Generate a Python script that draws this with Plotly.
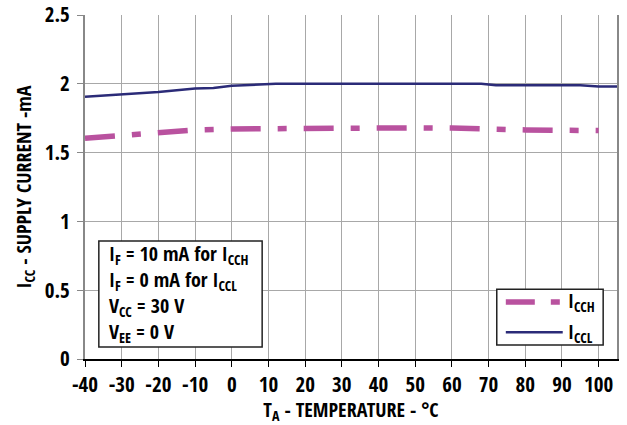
import plotly.graph_objects as go

temp_h = [-40, -30, -20, -10, 0, 10, 20, 30, 40, 50, 60, 70, 80, 90, 100]
icch = [1.605, 1.625, 1.645, 1.665, 1.672, 1.675, 1.68, 1.68, 1.68, 1.68, 1.678, 1.668, 1.665, 1.662, 1.66]

temp_l = [-40, -30, -20, -10, -5, 0, 5, 12, 20, 30, 40, 50, 60, 68, 72, 80, 90, 95, 100, 105]
iccl = [1.905, 1.92, 1.94, 1.965, 1.97, 1.985, 1.99, 2.0, 2.0, 2.0, 2.0, 2.0, 2.0, 2.0, 1.99, 1.99, 1.99, 1.99, 1.98, 1.98]

x_ticks = list(range(-40, 101, 10))
y_ticks = [0, 0.5, 1, 1.5, 2, 2.5]
y_tick_text = ["0", "0.5", "1", "1.5", "2", "2.5"]

series_names = ["I<sub>CCH</sub>", "I<sub>CCL</sub>"]
series_colors = ["#b9529f", "#2b2b78"]
series_widths = [5.5, 2.5]
series_dash = ["30px,17px,9px,17px", "solid"]

cond_lines = [
    "I<sub>F</sub> = 10 mA for I<sub>CCH</sub>",
    "I<sub>F</sub> = 0 mA for I<sub>CCL</sub>",
    "V<sub>CC</sub> = 30 V",
    "V<sub>EE</sub> = 0 V",
]

FONT = "Open Sans Condensed, Roboto Condensed, sans-serif"
TICK = dict(family=FONT, size=21, color="black", weight="bold")
TXT = dict(family=FONT, size=20, color="black", weight="bold")

fig = go.Figure()
fig.add_trace(go.Scatter(
    x=temp_h, y=icch, mode="lines", name=series_names[0], showlegend=False,
    line=dict(color=series_colors[0], width=series_widths[0], dash=series_dash[0]),
))
fig.add_trace(go.Scatter(
    x=temp_l, y=iccl, mode="lines", name=series_names[1], showlegend=False,
    line=dict(color=series_colors[1], width=series_widths[1], dash=series_dash[1]),
))

# conditions box
fig.add_shape(type="rect", xref="paper", yref="paper", x0=0.026, x1=0.333, y0=0.035, y1=0.343,
              line=dict(color="#222222", width=1.5), fillcolor="white", layer="above")
fig.add_annotation(xref="paper", yref="paper", x=0.041, y=0.19, xanchor="left", yanchor="middle",
                   text="<br>".join(cond_lines), align="left", showarrow=False, font=TXT)

# legend box
fig.add_shape(type="rect", xref="paper", yref="paper", x0=0.774, x1=0.974, y0=0.041, y1=0.203,
              line=dict(color="#222222", width=1.5), fillcolor="white", layer="above")
leg_y = [0.166, 0.078]
leg_dash = ["29px,16px,9px,17px", "solid"]
for i in range(2):
    fig.add_shape(type="line", xref="paper", yref="paper", x0=0.791, x1=0.898 if i else 0.894,
                  y0=leg_y[i], y1=leg_y[i], layer="above",
                  line=dict(color=series_colors[i], width=series_widths[i], dash=leg_dash[i]))
    fig.add_annotation(xref="paper", yref="paper", x=0.904, y=leg_y[i], xanchor="left", yanchor="middle",
                       text=series_names[i], showarrow=False, font=TXT)

fig.update_layout(
    width=627, height=425,
    margin=dict(l=85, r=10, t=15, b=66, autoexpand=False),
    paper_bgcolor="white", plot_bgcolor="white",
    font=TXT, showlegend=False,
)

fig.update_xaxes(
    range=[-40, 105], tickvals=x_ticks, ticktext=[str(v) for v in x_ticks],
    showgrid=True, gridcolor="#a8a8a8", gridwidth=1.2,
    showline=True, linecolor="black", linewidth=1.5,
    ticks="outside", ticklen=6, tickcolor="black", tickwidth=1.2,
    zeroline=False, automargin=False, tickfont=TICK,
    title=dict(text="T<sub>A</sub> - TEMPERATURE - °C", standoff=2, font=TXT),
)
fig.update_yaxes(
    range=[0, 2.5], tickvals=y_ticks, ticktext=y_tick_text,
    showgrid=True, gridcolor="#a8a8a8", gridwidth=1.2,
    showline=True, linecolor="#888888", linewidth=2, mirror=True,
    ticks="outside", ticklen=6, tickcolor="#888888", tickwidth=1.2,
    zeroline=False, ticklabelstandoff=3, automargin=False, tickfont=TICK,
    title=dict(text="I<sub>CC</sub> - SUPPLY CURRENT -mA", standoff=8, font=TXT),
)

fig.write_html("out.html", config={"displayModeBar": False},
               post_script="document.body.style.margin='0';document.body.style.padding='0';")
